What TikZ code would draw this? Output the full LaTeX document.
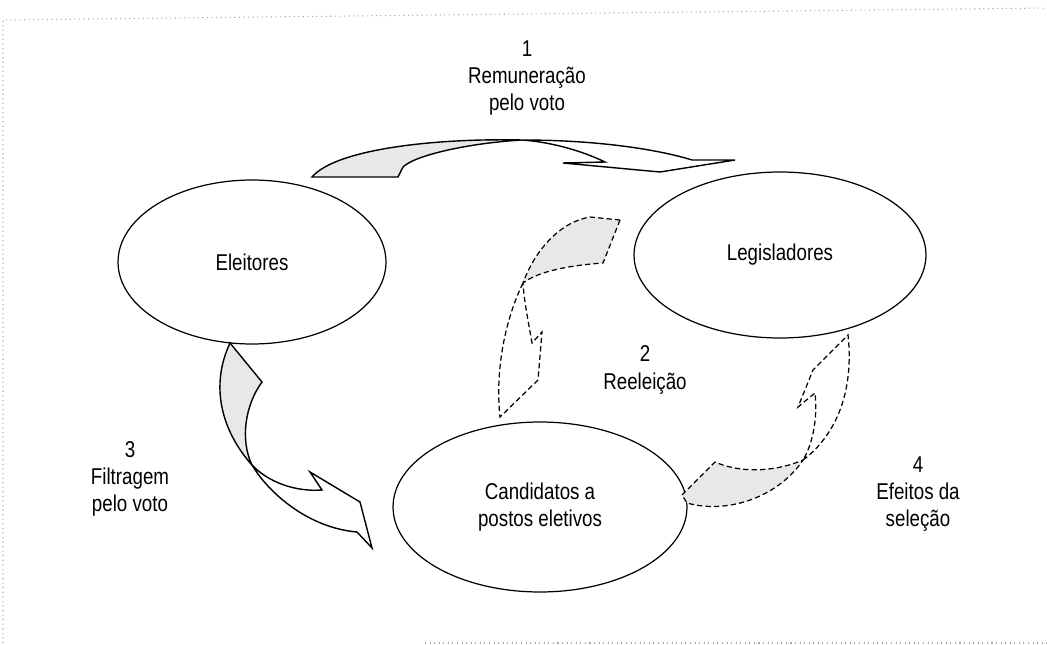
\documentclass[tikz,border=0pt]{standalone}
\usepackage{fontspec}
\setmainfont{Liberation Sans}[FakeStretch=0.82]
\usetikzlibrary{shapes.geometric}

\begin{document}
\begin{tikzpicture}[x=0.02cm, y=-0.02cm,
                    line width=0.8pt,
                    font=\fontsize{13}{15.5}\selectfont,
                    ]
    \tikzstyle{actor}=[ellipse, draw, inner sep=0pt, line width=0.7pt];
    \tikzstyle{note}=[align=center];
    \tikzstyle{frame}=[dotted, gray!70, line width=0.6pt];
    \tikzstyle{backface}=[draw, fill=gray!18];
    \tikzstyle{frontface}=[draw, fill=white];
    \tikzstyle{hidden}=[dash pattern=on 3pt off 1.8pt, line width=0.7pt];

    \useasboundingbox (0,0) rectangle (1047,645);
    \draw[frame] (3,643) -- (3,20) -- (1047,8);
    \draw[frame] (425,643) -- (1047,643);

    \node[actor, minimum width=5.36cm, minimum height=3.28cm] (eleitores) at (252,262) {Eleitores};
    \node[actor, minimum width=5.84cm, minimum height=3.32cm] (legisladores) at (780,255) {Legisladores};
    \node[actor, minimum width=5.88cm, minimum height=3.4cm, align=center] (candidatos) at (540,507) {Candidatos a\\postos eletivos};

    \node[note] (remuneracao) at (527,78) {1\\Remuneração\\pelo voto};
    \node[note] (reeleicao) at (645,370) {2\\Reeleição};
    \node[note] (filtragem) at (130,479) {3\\Filtragem\\pelo voto};
    \node[note] (efeitos) at (918,494) {4\\Efeitos da\\seleção};

    % 1: eleitores -> legisladores
    \path[backface] (312,177) .. controls (335,150) and (430,138) .. (522,140)
        .. controls (470,143) and (415,155) .. (403,167) -- (398,177) -- cycle;
    \path[frontface] (522,140) .. controls (600,140) and (660,150) .. (692,160) -- (735,160)
        -- (660,172) -- (563,163) -- (605,162) .. controls (580,150) and (550,142) .. (522,140) -- cycle;

    % 2: legisladores -> candidatos
    \path[backface, hidden] (620,220) -- (603,263) .. controls (575,265) and (540,270) .. (523,283)
        .. controls (535,250) and (560,222) .. (590,217) -- cycle;
    \path[frontface, hidden] (523,283) .. controls (505,320) and (495,370) .. (500,417) -- (538,380)
        -- (542,332) -- (532,343) .. controls (528,320) and (524,300) .. (523,283) -- cycle;

    % 3: eleitores -> candidatos
    \path[backface] (230,343) -- (262,382) .. controls (245,405) and (240,440) .. (252,465)
        .. controls (225,435) and (208,390) .. (230,343) -- cycle;
    \path[frontface] (252,465) .. controls (270,495) and (310,528) .. (357,532) -- (372,548)
        -- (360,502) -- (310,472) -- (322,490) .. controls (295,492) and (268,482) .. (252,465) -- cycle;

    % 4: candidatos -> legisladores
    \path[backface, hidden] (682,495) -- (715,462) .. controls (745,475) and (780,470) .. (803,460)
        .. controls (780,495) and (730,515) .. (687,503) -- cycle;
    \path[frontface, hidden] (803,460) .. controls (830,440) and (855,400) .. (848,335) -- (813,370)
        -- (798,407) -- (815,393) .. controls (818,420) and (812,445) .. (803,460) -- cycle;
\end{tikzpicture}
\end{document}
